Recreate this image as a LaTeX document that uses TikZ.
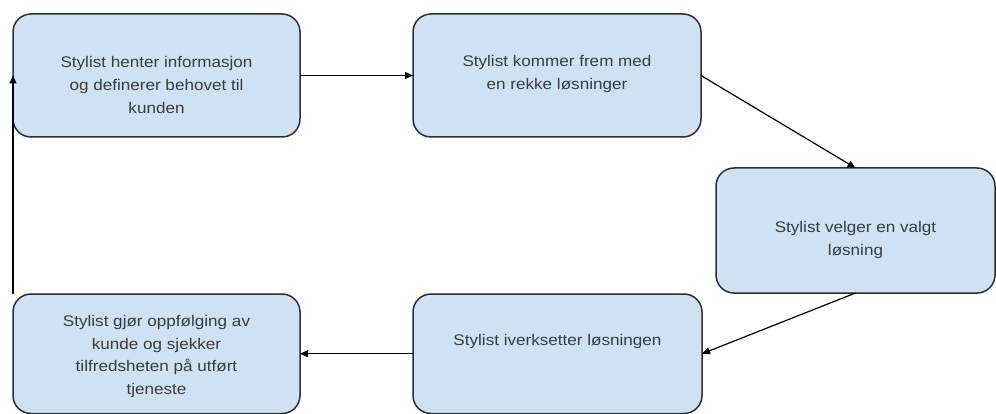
\documentclass[tikz,border=0pt]{standalone}
\usepackage{fontspec}
\usetikzlibrary{arrows.meta}
\newfontfamily\boxfont[FakeStretch=1.11]{Liberation Sans}
\definecolor{boxfill}{HTML}{CFE2F3}
\definecolor{boxline}{HTML}{2E2E2E}
\definecolor{boxtext}{HTML}{3C3C3C}
\tikzset{
  stepbox/.style={draw=boxline, line width=1.5pt, fill=boxfill, rounded corners=18pt,
    inner sep=0pt, outer sep=0pt},
  boxlabel/.style={align=center, text=boxtext, inner sep=0pt,
    font=\boxfont\fontsize{15.4}{22.8}\selectfont},
  flow/.style={draw=black, line width=1.2pt, -{Triangle[length=8pt,width=7pt]}}
}
\begin{document}
\begin{tikzpicture}[x=1pt,y=-1pt]
  \useasboundingbox (0,0) rectangle (996,414);

  % process steps
  \node[stepbox, minimum width=287pt, minimum height=123pt] (b1) at (156.5,75.5) {};
  \node[stepbox, minimum width=288pt, minimum height=123pt] (b2) at (557,75.5) {};
  \node[stepbox, minimum width=279pt, minimum height=125pt] (b3) at (855.5,230.5) {};
  \node[stepbox, minimum width=289pt, minimum height=119.5pt] (b4) at (557.5,353.75) {};
  \node[stepbox, minimum width=287pt, minimum height=119.5pt] (b5) at (156.5,353.75) {};

  % step descriptions
  \node[boxlabel] (t1) at (156.5,85) {Stylist henter informasjon\\og definerer behovet til\\kunden};
  \node[boxlabel] (t2) at (557,74) {Stylist kommer frem med\\en rekke løsninger};
  \node[boxlabel] (t3) at (855.5,240) {Stylist velger en valgt\\løsning};
  \node[boxlabel] (t4) at (557.5,342) {Stylist iverksetter løsningen};
  \node[boxlabel] (t5) at (156.5,356.5) {Stylist gjør oppfølging av\\kunde og sjekker\\tilfredsheten på utført\\tjeneste};

  % flow between steps
  \draw[flow] (b1.east) -- (b2.west);
  \draw[flow] (b2.east) -- (b3.north);
  \draw[flow] (b3.south) -- (b4.east);
  \draw[flow] (b4.west) -- (b5.east);
  \draw[flow] (b5.north west) -- (b1.west);
\end{tikzpicture}
\end{document}
